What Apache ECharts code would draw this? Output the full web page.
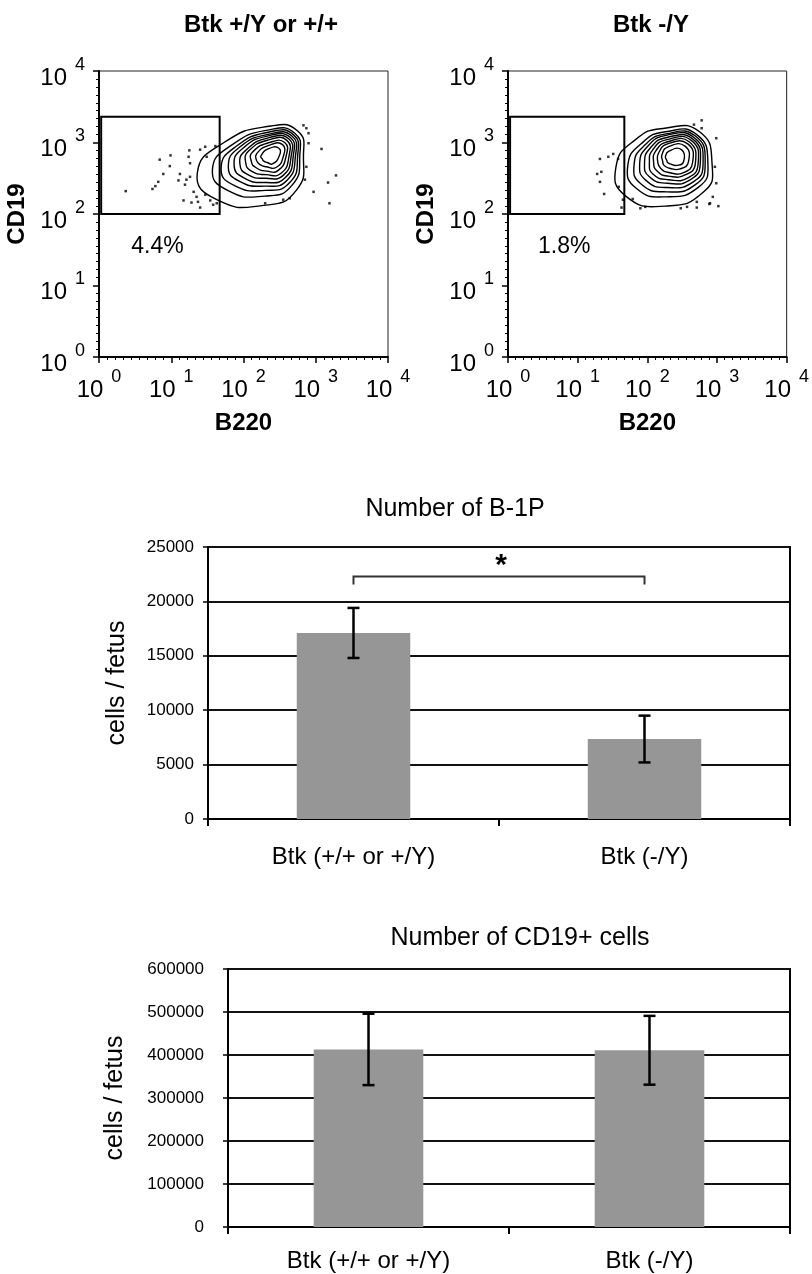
<!DOCTYPE html>
<html>
<head>
<meta charset="utf-8">
<title>Btk B-1P</title>
<script src="https://cdn.jsdelivr.net/npm/echarts@6/dist/echarts.min.js"></script>
<style>
  html, body { margin: 0; padding: 0; background: #fff; }
  #chart { width: 812px; height: 1274px; }
</style>
</head>
<body>
<div id="chart"></div>
<script>
// ---- flow plots: B220 (x) vs CD19 (y), in decades (log10 of fluorescence)
const decadeTicks = [0, 1, 2, 3, 4];
const flowTitles = ['Btk +/Y or +/+', 'Btk -/Y'];
const gatePercent = ['4.4%', '1.8%'];
const gateB220 = [0.03, 1.67];
const gateCD19 = [2.0, 3.36];

// contour rings, outer -> inner, points L, UL, T, UR, R, LR, B, LL
const wtRings = [
  [[1.36, 2.57], [1.73, 3.00], [2.38, 3.23], [2.75, 3.16], [2.83, 2.83], [2.73, 2.33], [2.28, 2.12], [1.63, 2.20]],
  [[1.57, 2.62], [1.83, 2.96], [2.37, 3.18], [2.71, 3.13], [2.78, 2.83], [2.67, 2.40], [2.29, 2.25], [1.78, 2.33]],
  [[1.69, 2.64], [1.89, 2.94], [2.37, 3.15], [2.69, 3.11], [2.75, 2.82], [2.64, 2.44], [2.30, 2.33], [1.87, 2.40]],
  [[1.79, 2.66], [1.94, 2.93], [2.37, 3.12], [2.67, 3.09], [2.72, 2.82], [2.60, 2.47], [2.30, 2.39], [1.94, 2.46]],
  [[1.87, 2.68], [1.98, 2.91], [2.37, 3.10], [2.65, 3.07], [2.69, 2.82], [2.58, 2.51], [2.31, 2.44], [2.00, 2.51]],
  [[1.95, 2.70], [2.03, 2.89], [2.36, 3.07], [2.63, 3.05], [2.66, 2.81], [2.55, 2.54], [2.31, 2.50], [2.06, 2.55]],
  [[2.03, 2.72], [2.07, 2.88], [2.36, 3.04], [2.60, 3.03], [2.63, 2.81], [2.52, 2.57], [2.31, 2.55], [2.11, 2.60]],
  [[2.11, 2.73], [2.12, 2.86], [2.36, 3.00], [2.57, 3.00], [2.59, 2.81], [2.48, 2.61], [2.32, 2.60], [2.17, 2.65]],
  [[2.18, 2.75], [2.18, 2.84], [2.35, 2.96], [2.54, 2.97], [2.55, 2.80], [2.45, 2.65], [2.32, 2.66], [2.23, 2.69]],
  [[2.26, 2.77], [2.24, 2.81], [2.34, 2.91], [2.49, 2.92], [2.49, 2.80], [2.40, 2.70], [2.33, 2.72], [2.28, 2.74]]
];
const koRings = [
  [[1.55, 2.66], [1.83, 3.04], [2.25, 3.20], [2.75, 3.15], [2.93, 2.69], [2.81, 2.31], [2.25, 2.11], [1.69, 2.25]],
  [[1.72, 2.68], [1.92, 2.99], [2.26, 3.15], [2.71, 3.11], [2.87, 2.69], [2.74, 2.38], [2.27, 2.24], [1.84, 2.36]],
  [[1.81, 2.69], [1.96, 2.96], [2.27, 3.12], [2.69, 3.09], [2.83, 2.70], [2.69, 2.41], [2.28, 2.31], [1.91, 2.42]],
  [[1.89, 2.70], [2.00, 2.94], [2.27, 3.10], [2.67, 3.07], [2.80, 2.70], [2.66, 2.45], [2.28, 2.37], [1.98, 2.47]],
  [[1.96, 2.71], [2.04, 2.92], [2.28, 3.07], [2.65, 3.05], [2.76, 2.71], [2.62, 2.48], [2.29, 2.43], [2.03, 2.52]],
  [[2.03, 2.72], [2.08, 2.90], [2.28, 3.04], [2.63, 3.03], [2.73, 2.71], [2.59, 2.51], [2.30, 2.48], [2.08, 2.56]],
  [[2.09, 2.73], [2.12, 2.88], [2.29, 3.01], [2.60, 3.01], [2.69, 2.71], [2.55, 2.55], [2.30, 2.53], [2.14, 2.60]],
  [[2.15, 2.73], [2.16, 2.85], [2.29, 2.98], [2.58, 2.98], [2.65, 2.72], [2.52, 2.58], [2.31, 2.58], [2.19, 2.64]],
  [[2.22, 2.74], [2.21, 2.83], [2.30, 2.94], [2.54, 2.95], [2.59, 2.73], [2.47, 2.63], [2.32, 2.64], [2.24, 2.68]],
  [[2.28, 2.75], [2.26, 2.80], [2.31, 2.88], [2.49, 2.90], [2.52, 2.73], [2.42, 2.68], [2.33, 2.70], [2.29, 2.72]]
];

// single events outside the contours
const wtDots = [
  [0.37, 2.32], [0.74, 2.35], [0.78, 2.39], [0.82, 2.45], [0.89, 2.56], [0.84, 2.76], [0.99, 2.82],
  [0.98, 2.67], [1.25, 2.89], [1.24, 2.80], [1.26, 2.71], [1.12, 2.56], [1.10, 2.47], [1.21, 2.48],
  [1.19, 2.41], [1.26, 2.52], [1.40, 2.90], [1.47, 2.94], [1.61, 2.95], [1.49, 2.80], [1.31, 2.31],
  [1.35, 2.24], [1.37, 2.17], [1.28, 2.16], [1.17, 2.19], [1.40, 2.09], [1.47, 2.27], [1.54, 2.19],
  [1.58, 2.13], [1.63, 2.15], [3.08, 2.91], [3.28, 2.54], [3.17, 2.44], [2.97, 2.31], [3.19, 2.15],
  [2.90, 2.99], [2.83, 3.24], [2.87, 3.20], [2.90, 3.13], [2.87, 2.66], [2.85, 2.48], [2.55, 2.20],
  [2.64, 2.22], [2.30, 2.15]
];
const koDots = [
  [1.32, 2.77], [1.34, 2.59], [1.28, 2.56], [1.44, 2.80], [1.51, 2.84], [1.58, 2.77], [1.32, 2.45],
  [1.38, 2.28], [1.59, 2.38], [1.63, 2.09], [1.65, 2.20], [1.79, 2.21], [1.90, 2.08], [1.97, 2.10],
  [2.48, 2.08], [2.57, 2.10], [2.71, 2.17], [2.90, 2.15], [3.02, 2.11], [2.94, 2.24], [2.99, 2.43],
  [2.97, 2.66], [2.99, 3.06], [2.78, 3.31], [2.67, 3.25], [2.78, 3.20], [2.89, 2.14], [2.71, 2.09]
];

// ---- bar charts
const groups = ['Btk (+/+ or +/Y)', 'Btk (-/Y)'];
const b1pMean = [17100, 7350];
const b1pErr = [2300, 2150];
const b1pSigPair = [0, 1];
const b1pSigLevel = 22300;
const cd19Mean = [413000, 411000];
const cd19Err = [83000, 80000];

const FONT = '"Liberation Sans", Arial, sans-serif';

// "10" with the exponent raised
const expRich = {
  b: { fontFamily: FONT, fontSize: 24, color: '#000', lineHeight: 44, verticalAlign: 'middle' },
  s: { fontFamily: FONT, fontSize: 18, color: '#000', lineHeight: 26, verticalAlign: 'top', padding: [0, 0, 0, 8] }
};
const expLabel = v => '{b|10}{s|' + v + '}';

function flowAxis(gi, isX) {
  return {
    gridIndex: gi, type: 'value',
    min: decadeTicks[0], max: decadeTicks[decadeTicks.length - 1], interval: 1,
    name: isX ? 'B220' : 'CD19', nameLocation: 'middle', nameGap: isX ? 54 : 70,
    nameTextStyle: { fontFamily: FONT, fontWeight: 'bold', fontSize: 24, color: '#000' },
    axisLine: { show: true, onZero: false, lineStyle: { color: '#000', width: 2 } },
    axisTick: { show: true, length: 6, lineStyle: { color: '#000', width: 1.5 } },
    minorTick: { show: true, splitNumber: 9, length: 3, lineStyle: { color: '#000', width: 1 } },
    splitLine: { show: false },
    axisLabel: {
      margin: isX ? 11 : 14, padding: isX ? 0 : [14, 0, 0, 0],
      formatter: expLabel, rich: expRich
    }
  };
}

function ringSeries(gi, rings) {
  return {
    type: 'custom', xAxisIndex: gi, yAxisIndex: gi, silent: true,
    encode: { x: 0, y: 1 },
    data: rings.map((r, i) => [r[0][0], r[0][1], i]),
    renderItem: (params, api) => {
      const ring = rings[api.value(2)];
      return {
        type: 'polygon',
        shape: { points: ring.map(p => api.coord(p)), smooth: 0.55 },
        style: { fill: 'none', stroke: '#000', lineWidth: 1.4 }
      };
    }
  };
}

function dotSeries(gi, dots) {
  return {
    type: 'scatter', xAxisIndex: gi, yAxisIndex: gi, silent: true,
    symbol: 'rect', symbolSize: 2.5, itemStyle: { color: '#000' }, data: dots
  };
}

function gateSeries(gi) {
  return {
    type: 'custom', xAxisIndex: gi, yAxisIndex: gi, silent: true, z: 4,
    encode: { x: [0, 2], y: [1, 3] },
    data: [[gateB220[0], gateCD19[0], gateB220[1], gateCD19[1]]],
    renderItem: (params, api) => {
      const tl = api.coord([api.value(0), api.value(3)]);
      const br = api.coord([api.value(2), api.value(1)]);
      return {
        type: 'group', children: [
          { type: 'rect', shape: { x: tl[0], y: tl[1], width: br[0] - tl[0], height: br[1] - tl[1] },
            style: { fill: 'none', stroke: '#000', lineWidth: 2 } },
          { type: 'text', x: (tl[0] + br[0]) / 2 - 3, y: br[1] + 33,
            style: { text: gatePercent[gi], fontFamily: FONT, fontSize: 23, fill: '#000',
                     align: 'center', verticalAlign: 'middle' } }
        ]
      };
    }
  };
}

function barXAxis(gi, margin) {
  return {
    gridIndex: gi, type: 'category', data: groups,
    axisLine: { show: true, lineStyle: { color: '#000', width: 2 } },
    axisTick: { show: true, length: 7, lineStyle: { color: '#000', width: 2 } },
    axisLabel: { fontFamily: FONT, fontSize: 24, color: '#000', margin: margin }
  };
}

function barYAxis(gi, max, step, nameGap, margin) {
  return {
    gridIndex: gi, type: 'value', min: 0, max: max, interval: step,
    name: 'cells / fetus', nameLocation: 'middle', nameGap: nameGap,
    nameTextStyle: { fontFamily: FONT, fontSize: 25, color: '#000' },
    axisLine: { show: true, lineStyle: { color: '#000', width: 2 } },
    axisTick: { show: true, length: 5, lineStyle: { color: '#000', width: 1.5 } },
    splitLine: { show: true, lineStyle: { color: '#111', width: 2 } },
    axisLabel: { fontFamily: FONT, fontSize: 17, color: '#000', margin: margin, formatter: v => String(v) }
  };
}

function barSeries(gi, means) {
  return {
    type: 'bar', xAxisIndex: gi, yAxisIndex: gi, barWidth: '39%', silent: true,
    itemStyle: { color: '#969696' }, data: means
  };
}

function errorSeries(gi, means, errs) {
  return {
    type: 'custom', xAxisIndex: gi, yAxisIndex: gi, silent: true, z: 5,
    encode: { x: 0, y: [1, 2] },
    data: means.map((m, i) => [i, m - errs[i], m + errs[i]]),
    renderItem: (params, api) => {
      const lo = api.coord([api.value(0), api.value(1)]);
      const hi = api.coord([api.value(0), api.value(2)]);
      const st = { stroke: '#000', lineWidth: 2.5 };
      return {
        type: 'group', children: [
          { type: 'line', shape: { x1: lo[0], y1: lo[1], x2: hi[0], y2: hi[1] }, style: st },
          { type: 'line', shape: { x1: lo[0] - 6, y1: lo[1], x2: lo[0] + 6, y2: lo[1] }, style: st },
          { type: 'line', shape: { x1: hi[0] - 6, y1: hi[1], x2: hi[0] + 6, y2: hi[1] }, style: st }
        ]
      };
    }
  };
}

function bracketSeries(gi) {
  return {
    type: 'custom', xAxisIndex: gi, yAxisIndex: gi, silent: true, z: 5,
    encode: { x: [0, 1], y: 2 },
    data: [[b1pSigPair[0], b1pSigPair[1], b1pSigLevel]],
    renderItem: (params, api) => {
      const a = api.coord([api.value(0), api.value(2)]);
      const b = api.coord([api.value(1), api.value(2)]);
      return {
        type: 'group', children: [
          { type: 'polyline', shape: { points: [[a[0], a[1] + 8], a, b, [b[0], b[1] + 8]] },
            style: { fill: 'none', stroke: '#333', lineWidth: 2 } },
          { type: 'text', x: (a[0] + b[0]) / 2 + 2, y: a[1] + 4,
            style: { text: '*', fontFamily: FONT, fontWeight: 'bold', fontSize: 30, fill: '#000',
                     align: 'center', verticalAlign: 'bottom' } }
        ]
      };
    }
  };
}

const chart = echarts.init(document.getElementById('chart'), null, { renderer: 'canvas' });

const titleStyle = { fontFamily: FONT, fontSize: 24, fontWeight: 'bold', color: '#000' };
const barTitleStyle = { fontFamily: FONT, fontSize: 25, fontWeight: 'normal', color: '#000' };

chart.setOption({
  animation: false,
  backgroundColor: '#fff',
  title: [
    { text: flowTitles[0], left: 256, top: 8, textAlign: 'center', textStyle: titleStyle },
    { text: flowTitles[1], left: 646, top: 8, textAlign: 'center', textStyle: titleStyle },
    { text: 'Number of B-1P', left: 450, top: 492, textAlign: 'center', textStyle: barTitleStyle },
    { text: 'Number of CD19+ cells', left: 515, top: 921, textAlign: 'center', textStyle: barTitleStyle }
  ],
  grid: [
    { left: 99, top: 71, width: 289, height: 286, show: true, borderColor: '#222', borderWidth: 1 },
    { left: 508, top: 71, width: 288, height: 286, show: true, borderColor: '#222', borderWidth: 1 },
    { left: 208, top: 547, width: 582, height: 272, show: true, borderColor: '#000', borderWidth: 2 },
    { left: 228, top: 969, width: 562, height: 258, show: true, borderColor: '#000', borderWidth: 2 }
  ],
  xAxis: [
    flowAxis(0, true),
    flowAxis(1, true),
    barXAxis(2, 26),
    barXAxis(3, 22)
  ],
  yAxis: [
    flowAxis(0, false),
    flowAxis(1, false),
    barYAxis(2, 25000, 5000, 78, 14),
    barYAxis(3, 600000, 100000, 100, 24)
  ],
  series: [
    ringSeries(0, wtRings),
    dotSeries(0, wtDots),
    gateSeries(0),
    ringSeries(1, koRings),
    dotSeries(1, koDots),
    gateSeries(1),
    barSeries(2, b1pMean),
    errorSeries(2, b1pMean, b1pErr),
    bracketSeries(2),
    barSeries(3, cd19Mean),
    errorSeries(3, cd19Mean, cd19Err)
  ]
});
</script>
</body>
</html>
